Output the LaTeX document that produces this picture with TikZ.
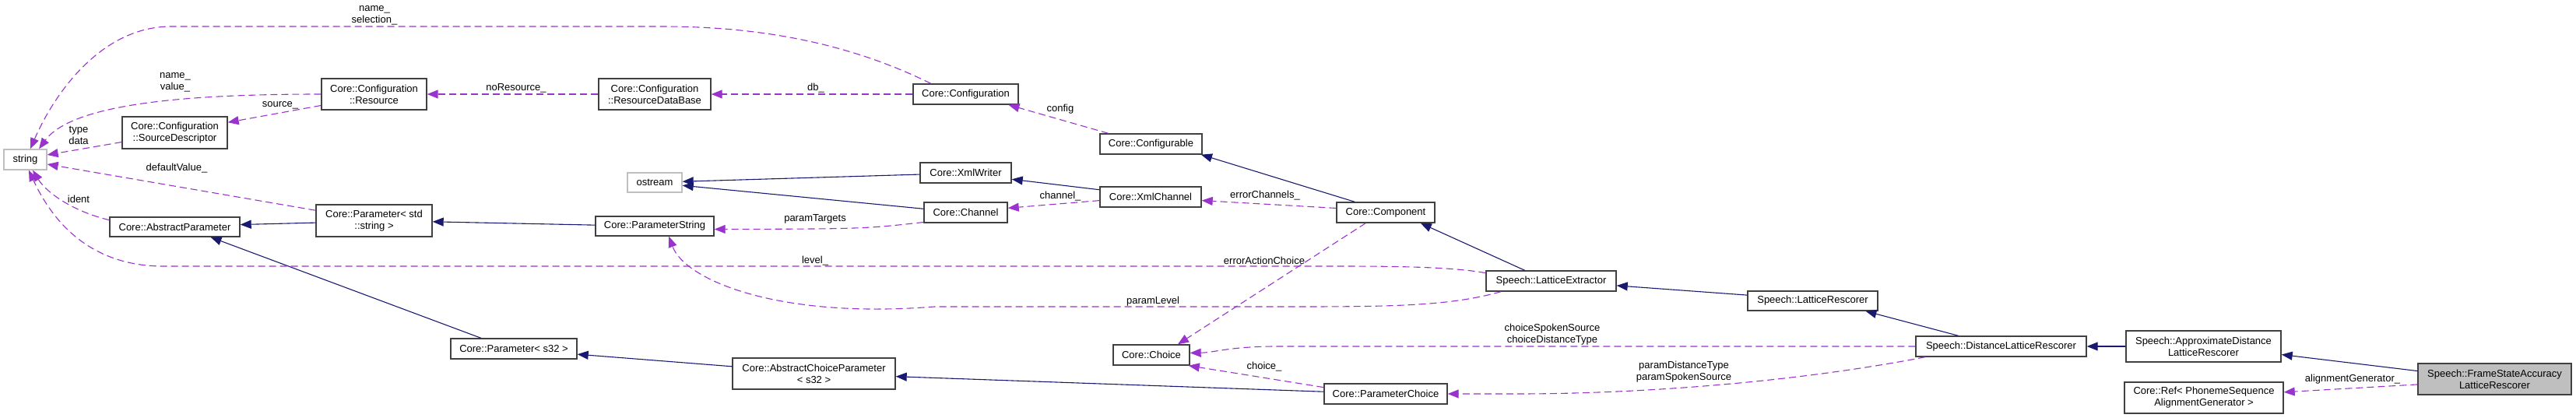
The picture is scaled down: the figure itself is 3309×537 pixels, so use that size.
\documentclass[tikz,border=0pt]{standalone}
\usepackage{fontspec}
\setmainfont{Liberation Sans}
\usepackage{tikz}
\usetikzlibrary{arrows.meta}
\definecolor{ink}{HTML}{404040}
\definecolor{boxgray}{HTML}{BFBFBF}
\definecolor{orchid}{HTML}{9A32CD}
\definecolor{midnight}{HTML}{191970}
\tikzset{
  cls/.style={draw=ink,fill=white,line width=1.4pt,inner sep=0pt,align=center,
    font=\fontsize{13}{15}\selectfont},
  extcls/.style={cls,draw=boxgray},
  lbl/.style={inner sep=0pt,align=center,font=\fontsize{13}{15}\selectfont},
  inherits/.style={draw=midnight,line width=1.1pt,->},
  uses/.style={draw=orchid,line width=1.1pt,dash pattern=on 9pt off 5pt,->}
}

\begin{document}
\begin{tikzpicture}[x=1pt,y=-1pt,>={Triangle[length=14pt,width=11pt]}]
    \path[use as bounding box] (0,0) rectangle (3309,537);
    % classes
    \node[extcls,minimum width=55pt,minimum height=26pt] (str) at (32.5,205) {string};
    \node[cls,minimum width=135pt,minimum height=41pt] (srcdesc) at (224.5,170.5)
      {Core::Configuration\\::SourceDescriptor};
    \node[cls,minimum width=135pt,minimum height=40pt] (resource) at (480.5,121)
      {Core::Configuration\\::Resource};
    \node[cls,minimum width=144pt,minimum height=40pt] (resdb) at (841,121)
      {Core::Configuration\\::ResourceDataBase};
    \node[cls,minimum width=135pt,minimum height=26pt] (config) at (1240.5,121) {Core::Configuration};
    \node[cls,minimum width=131pt,minimum height=26pt] (configurable) at (1478.5,185) {Core::Configurable};
    \node[extcls,minimum width=70pt,minimum height=25pt] (ostream) at (841,234.5) {ostream};
    \node[cls,minimum width=117pt,minimum height=26pt] (xmlwriter) at (1240.5,222) {Core::XmlWriter};
    \node[cls,minimum width=130pt,minimum height=26pt] (xmlchannel) at (1478,253) {Core::XmlChannel};
    \node[cls,minimum width=107pt,minimum height=26pt] (channel) at (1240.5,273) {Core::Channel};
    \node[cls,minimum width=126pt,minimum height=26pt] (component) at (1780,273) {Core::Component};
    \node[cls,minimum width=167pt,minimum height=25pt] (absparam) at (224.5,291.5) {Core::AbstractParameter};
    \node[cls,minimum width=149pt,minimum height=41pt] (paramstd) at (480.5,283.5)
      {Core::Parameter< std\\::string >};
    \node[cls,minimum width=152pt,minimum height=25pt] (paramstring) at (841,290.5) {Core::ParameterString};
    \node[cls,minimum width=167pt,minimum height=26pt] (latext) at (1992.5,361) {Speech::LatticeExtractor};
    \node[cls,minimum width=167pt,minimum height=25pt] (latresc) at (2328.5,386.5) {Speech::LatticeRescorer};
    \node[cls,minimum width=219pt,minimum height=26pt] (distresc) at (2570.5,445)
      {Speech::DistanceLatticeRescorer};
    \node[cls,minimum width=199pt,minimum height=40pt] (approxresc) at (2830.5,445)
      {Speech::ApproximateDistance\\LatticeRescorer};
    \node[cls,fill=boxgray,minimum width=197pt,minimum height=40pt] (framestate) at (3204.5,487)
      {Speech::FrameStateAccuracy\\LatticeRescorer};
    \node[cls,minimum width=204pt,minimum height=40pt] (alignref) at (2831,511)
      {Core::Ref< PhonemeSequence\\AlignmentGenerator >};
    \node[cls,minimum width=162pt,minimum height=26pt] (params32) at (660,448) {Core::Parameter< s32 >};
    \node[cls,minimum width=209pt,minimum height=40pt] (abschoice) at (1045.5,480)
      {Core::AbstractChoiceParameter\\< s32 >};
    \node[cls,minimum width=98pt,minimum height=26pt] (choice) at (1479,456) {Core::Choice};
    \node[cls,minimum width=158pt,minimum height=26pt] (paramchoice) at (1780,506) {Core::ParameterChoice};
    % inheritance
    \draw[inherits] (paramstd.182) -- (absparam.2);
    \draw[inherits] (paramstring.179) -- (paramstd.-1);
    \draw[inherits] (params32.162) -- (absparam.-16);
    \draw[inherits] (abschoice.175) -- (params32.-5);
    \draw[inherits] (paramchoice.178) -- (abschoice.-2);
    \draw[inherits] (xmlwriter.182) -- (ostream.2);
    \draw[inherits] (channel.175) -- (ostream.-6);
    \draw[inherits] (xmlchannel.172) -- (xmlwriter.-8);
    \draw[inherits] (component.161) -- (configurable.-12);
    \draw[inherits] (latext.158) -- (component.-17);
    \draw[inherits] (latresc.175) -- (latext.-4);
    \draw[inherits] (distresc.166) -- (latresc.-11);
    \draw[inherits] (approxresc.west) -- (distresc.east);
    \draw[inherits] (framestate.174) -- (approxresc.-6);
    % members
    \draw[uses] (config.163) .. controls (1080,50) and (960,34) .. (850,34) -- (220,34)
      .. controls (130,34) and (70,120) .. (str.65)
      node[lbl] at (481,20) {name\_\\selection\_};
    \draw[uses] (resource.west) .. controls (260,121) and (95,130) .. (str.38)
      node[lbl] at (225,106) {name\_\\value\_};
    \draw[uses] (resource.192) -- (srcdesc.11) node[lbl] at (360,135) {source\_};
    \draw[uses] (srcdesc.190) -- (str.12) node[lbl] at (101,174) {type\\data};
    \draw[uses] (paramstd.170) -- (str.-12) node[lbl] at (227,216) {defaultValue\_};
    \draw[uses] (absparam.174) .. controls (95,272) and (60,248) .. (str.-55)
      node[lbl] at (101,256) {ident};
    \draw[uses] (latext.173) .. controls (1860,342) and (1780,342) .. (1700,342) -- (210,342)
      .. controls (120,342) and (70,290) .. (str.-72)
      node[lbl] at (1047,335) {level\_};
    \draw[uses] (latext.192) .. controls (1860,394) and (1780,394) .. (1650,394) -- (1200,394)
      .. controls (1000,410) and (880,360) .. (paramstring.-36)
      node[lbl] at (1481,387) {paramLevel};
    \draw[uses] (component.-152) -- (choice.22) node[lbl] at (1624,335) {errorActionChoice};
    \draw[uses] (distresc.west) -- (1640,445) .. controls (1580,445) and (1560,453) .. (choice.3)
      node[lbl] at (1994,430) {choiceSpokenSource\\choiceDistanceType};
    \draw[uses] (distresc.-172) .. controls (2300,492) and (2100,506) .. (1950,506) -- (paramchoice.east)
      node[lbl] at (2163,478) {paramDistanceType\\paramSpokenSource};
    \draw[uses] (paramchoice.174) -- (choice.-16) node[lbl] at (1624,471) {choice\_};
    \draw[uses] (framestate.184) -- (alignref.4) node[lbl] at (3022,487) {alignmentGenerator\_};
    \draw[uses] (resdb.west) -- (resource.east) node[lbl] at (663,113) {noResource\_};
    \draw[uses] (config.west) -- (resdb.east) node[lbl] at (1048,113) {db\_};
    \draw[uses] (configurable.166) -- (config.-14) node[lbl] at (1362,140) {config};
    \draw[uses] (xmlchannel.184) -- (channel.6) node[lbl] at (1362,252) {channel\_};
    \draw[uses] (component.175) -- (xmlchannel.-4) node[lbl] at (1625,251) {errorChannels\_};
    \draw[uses] (channel.193) .. controls (1110,294) .. (paramstring.-3)
      node[lbl] at (1047,281) {paramTargets};
  \end{tikzpicture}
\end{document}
